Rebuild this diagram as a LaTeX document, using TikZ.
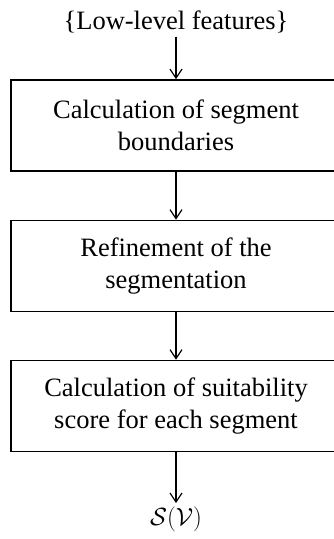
\documentclass[tikz,border=0pt]{standalone}
\usepackage{amsmath}
\usepackage{fontspec}
\setmainfont{Liberation Serif}
\usetikzlibrary{arrows.meta}

\begin{document}
\begin{tikzpicture}[x=1pt,y=-1pt,
  every node/.style={font=\fontsize{26.5}{32}\selectfont},
  block/.style={draw, line width=1.6pt, minimum width=330pt, minimum height=91pt, align=center, inner sep=0pt},
  flow/.style={-{Straight Barb[length=9pt,width=12pt]}, line width=1.2pt}]
\useasboundingbox (0,0) rectangle (334,539);
\node (feat) at (176,22) {\{Low-level features\}};
\node[block] (bounds) at (176,125.5) {Calculation of segment\\boundaries};
\node[block] (refine) at (176,266) {Refinement of the\\segmentation};
\node[block] (score) at (176,406) {Calculation of suitability\\score for each segment};
\node[font=\fontsize{24}{29}\selectfont] (out) at (176,519) {$\mathcal{S}(\mathcal{V})$};
\draw[flow] (feat) -- (bounds);
\draw[flow] (bounds) -- (refine);
\draw[flow] (refine) -- (score);
\draw[flow] (score) -- (out);
\end{tikzpicture}
\end{document}
